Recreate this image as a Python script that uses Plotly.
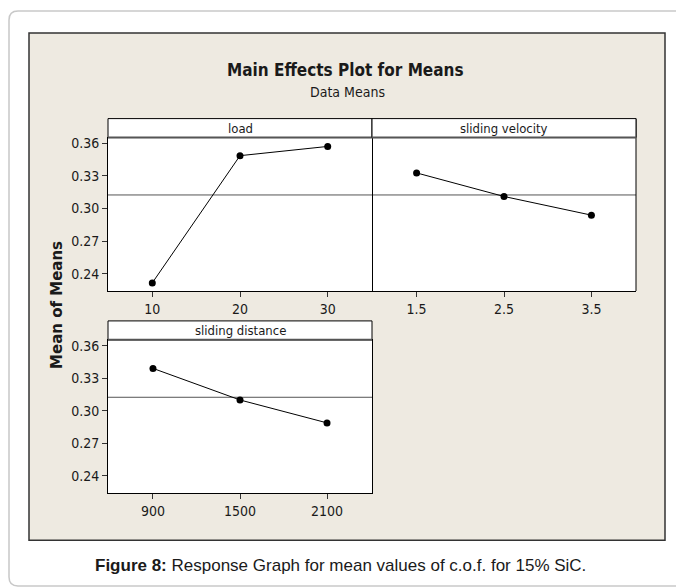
import plotly.graph_objects as go

# ---- data ----
load_levels = [10, 20, 30]
load_means = [0.2315, 0.3487, 0.3572]
velocity_levels = [1.5, 2.5, 3.5]
velocity_means = [0.3328, 0.3111, 0.2939]
distance_levels = [900, 1500, 2100]
distance_means = [0.3391, 0.3100, 0.2889]
grand_mean = 0.3125
y_ticks = [0.24, 0.27, 0.30, 0.33, 0.36]
y_tick_labels = ["0.24", "0.27", "0.30", "0.33", "0.36"]
panel_titles = ["load", "sliding velocity", "sliding distance"]

W, H = 676, 588
def px(x):
    return x / W
def py(y):
    return 1 - y / H

NARROW = "DejaVu Sans Condensed, Liberation Sans Narrow, sans-serif"
TXT = "#1a1a1a"

fig = go.Figure()
line_style = dict(color="black", width=1)
marker_style = dict(color="black", size=7, symbol="circle")
fig.add_trace(go.Scatter(x=load_levels, y=load_means, mode="lines+markers",
                         line=line_style, marker=marker_style, xaxis="x", yaxis="y", showlegend=False))
fig.add_trace(go.Scatter(x=velocity_levels, y=velocity_means, mode="lines+markers",
                         line=line_style, marker=marker_style, xaxis="x2", yaxis="y2", showlegend=False))
fig.add_trace(go.Scatter(x=distance_levels, y=distance_means, mode="lines+markers",
                         line=line_style, marker=marker_style, xaxis="x3", yaxis="y3", showlegend=False))

# panel geometry (pixels)
colL = (108, 372)
colR = (372, 636)
row1 = (136, 290)
row2 = (339, 493)
strip1 = (117, 136)
strip2 = (320, 339)

tickfont = dict(family=NARROW, size=14, color=TXT)
common_x = dict(showline=True, mirror=True, linecolor="black", linewidth=1,
                ticks="outside", ticklen=5, tickcolor="#333", showgrid=False,
                zeroline=False, tickfont=tickfont)
common_y = dict(showline=True, mirror=True, linecolor="black", linewidth=1,
                ticks="outside", ticklen=5, tickcolor="#333", showgrid=False,
                zeroline=False, tickfont=tickfont, range=[0.2240, 0.3654],
                tickvals=y_ticks, ticktext=y_tick_labels)

fig.update_layout(
    width=W, height=H, margin=dict(l=0, r=0, t=0, b=0),
    paper_bgcolor="white", plot_bgcolor="white",
    xaxis=dict(common_x, domain=[px(colL[0]), px(colL[1])], anchor="y",
               range=[20 - 15.05, 20 + 15.05], tickvals=load_levels),
    yaxis=dict(common_y, domain=[py(row1[1]), py(row1[0])], anchor="x"),
    xaxis2=dict(common_x, domain=[px(colR[0]), px(colR[1])], anchor="y2",
                range=[2.5 - 1.51, 2.5 + 1.51], tickvals=velocity_levels),
    yaxis2=dict(common_y, domain=[py(row1[1]), py(row1[0])], anchor="x2",
                showticklabels=False, ticks="", mirror=False, showline=False),
    xaxis3=dict(common_x, domain=[px(colL[0]), px(colL[1])], anchor="y3",
                range=[1500 - 910, 1500 + 910], tickvals=distance_levels),
    yaxis3=dict(common_y, domain=[py(row2[1]), py(row2[0])], anchor="x3"),
)

shapes = []
# outer rounded page border: left side with rounded corners, top and bottom lines run off the page
r = 9
x0, y0, y1 = 9, 9, 586
BORDER = dict(color="#c8c8c8", width=1.5)
path = (f"M {px(x0 + r)},{py(y0)} Q {px(x0)},{py(y0)} {px(x0)},{py(y0 + r)} "
        f"L {px(x0)},{py(y1 - r)} Q {px(x0)},{py(y1)} {px(x0 + r)},{py(y1)}")
shapes.append(dict(type="path", path=path, xref="paper", yref="paper", line=BORDER, layer="below"))
shapes.append(dict(type="line", xref="paper", yref="paper", x0=px(x0 + r), x1=1,
                   y0=py(y0), y1=py(y0), line=BORDER, layer="below"))
shapes.append(dict(type="line", xref="paper", yref="paper", x0=px(x0 + r), x1=1,
                   y0=py(y1), y1=py(y1), line=BORDER, layer="below"))
# right side of the velocity panel
shapes.append(dict(type="line", xref="paper", yref="paper",
                   x0=px(636), x1=px(636), y0=py(290), y1=py(117),
                   line=dict(color="black", width=1), layer="above"))
# beige figure panel
shapes.append(dict(type="rect", xref="paper", yref="paper",
                   x0=px(29), x1=px(665), y0=py(540), y1=py(31),
                   fillcolor="#EEEAE1", line=dict(color="#333", width=1.5), layer="below"))
# white plot backgrounds
for (cx, ry) in [(colL, row1), (colR, row1), (colL, row2)]:
    shapes.append(dict(type="rect", xref="paper", yref="paper",
                       x0=px(cx[0]), x1=px(cx[1]), y0=py(ry[1]), y1=py(ry[0]),
                       fillcolor="white", line=dict(width=0), layer="below"))
# strips
for (cx, st) in [(colL, strip1), (colR, strip1), (colL, strip2)]:
    shapes.append(dict(type="rect", xref="paper", yref="paper",
                       x0=px(cx[0]), x1=px(cx[1]), y0=py(st[1]), y1=py(st[0]),
                       fillcolor="white", line=dict(color="black", width=1), layer="above"))
    shapes.append(dict(type="line", xref="paper", yref="paper",
                       x0=px(cx[0]), x1=px(cx[1]), y0=py(st[1]), y1=py(st[1]),
                       line=dict(color="#555", width=2), layer="above"))
# grand mean reference lines
for xr, yr in [("x", "y"), ("x2", "y2"), ("x3", "y3")]:
    shapes.append(dict(type="line", xref=f"{xr} domain", yref=yr, x0=0, x1=1,
                       y0=grand_mean, y1=grand_mean,
                       line=dict(color="#555", width=1), layer="below"))
fig.update_layout(shapes=shapes)

def ann(text, x, y, font, **kw):
    d = dict(text=text, x=px(x), y=py(y), xref="paper", yref="paper", showarrow=False,
             xanchor="center", yanchor="middle", font=font)
    d.update(kw)
    return d

annotations = []
annotations.append(ann("<b>Main Effects Plot for Means</b>", 346, 68,
                       dict(family=NARROW, size=17, color=TXT)))
annotations.append(ann("Data Means", 347, 90,
                       dict(family=NARROW, size=14, color=TXT)))
for title, cx, st in [(panel_titles[0], colL, strip1), (panel_titles[1], colR, strip1),
                      (panel_titles[2], colL, strip2)]:
    annotations.append(ann(title, (cx[0] + cx[1]) / 2, (st[0] + st[1]) / 2,
                           dict(family=NARROW, size=13, color=TXT)))
annotations.append(ann("<b>Mean of Means</b>", 57, 304,
                       dict(family="DejaVu Sans", size=15, color=TXT), textangle=-90))
annotations.append(ann("<b>Figure 8:</b> Response Graph for mean values of c.o.f. for 15% SiC.",
                       340, 565, dict(family="Liberation Sans, Arial, sans-serif", size=17, color=TXT)))
fig.update_layout(annotations=annotations)

fig.write_html("out.html", config={"displayModeBar": False},
               post_script="document.body.style.margin='0px';")
